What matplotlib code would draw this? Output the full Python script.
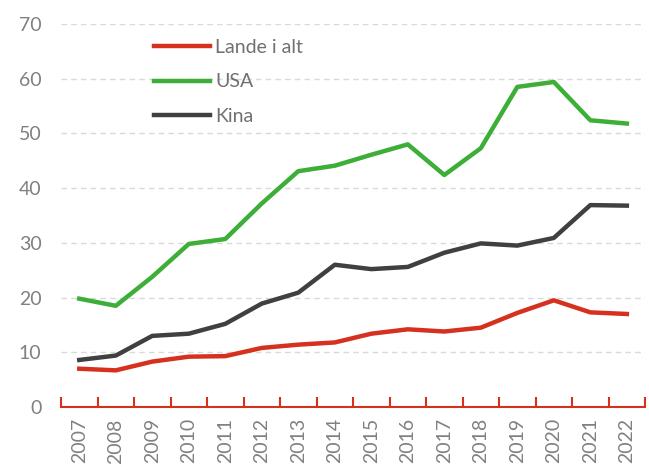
import matplotlib
matplotlib.use("Agg")
import matplotlib.pyplot as plt
import numpy as np

years = [str(y) for y in range(2007, 2023)]
lande_i_alt = [7.0, 6.7, 8.3, 9.2, 9.3, 10.8, 11.4, 11.8, 13.4, 14.2, 13.8, 14.5, 17.2, 19.5, 17.3, 17.0]
usa = [19.8, 18.5, 23.8, 29.8, 30.7, 37.2, 43.1, 44.1, 46.1, 48.0, 42.4, 47.3, 58.5, 59.4, 52.4, 51.8]
kina = [8.6, 9.4, 13.0, 13.4, 15.2, 18.9, 20.9, 26.0, 25.2, 25.6, 28.2, 29.9, 29.5, 30.9, 36.9, 36.8]

plt.rcParams["font.family"] = ["Lato", "DejaVu Sans"]

fig = plt.figure(figsize=(6.49, 4.70), dpi=100)
ax = fig.add_axes([0.094, 0.134, 0.900, 0.815])

x = np.arange(len(years))
ax.plot(x, lande_i_alt, color="#D6311E", lw=3.2, label="Lande i alt")
ax.plot(x, usa, color="#3DAE37", lw=3.2, label="USA")
ax.plot(x, kina, color="#404040", lw=3.2, label="Kina")

ax.set_xlim(-0.5, len(years) - 0.5)
ax.set_ylim(0, 70)
ax.set_yticks(np.arange(0, 71, 10))
ax.yaxis.grid(True, color="#D9D9D9", ls=(0, (4, 3)), lw=1.0)
ax.set_axisbelow(True)

for s in ["top", "right", "left"]:
    ax.spines[s].set_visible(False)
ax.spines["bottom"].set_color("#D6311E")
ax.spines["bottom"].set_linewidth(1.5)

ax.set_xticks(x)
ax.set_xticklabels(years, rotation=90)
ax.set_xticks(np.arange(-0.5, len(years)), minor=True)
ax.tick_params(axis="x", which="major", length=0, pad=8, labelsize=14, labelcolor="#808080")
ax.tick_params(axis="x", which="minor", length=7, width=1.5, color="#D6311E", direction="in")
ax.tick_params(axis="y", length=0, pad=14, labelsize=14, labelcolor="#808080")

leg = ax.legend(loc="upper left", bbox_to_anchor=(0.137, 0.995), frameon=False,
                fontsize=14, handlelength=2.9, handletextpad=0.25, labelspacing=0.92,
                borderaxespad=0.25)
for t in leg.get_texts():
    t.set_color("#707070")

fig.savefig("out.png", dpi=100)
